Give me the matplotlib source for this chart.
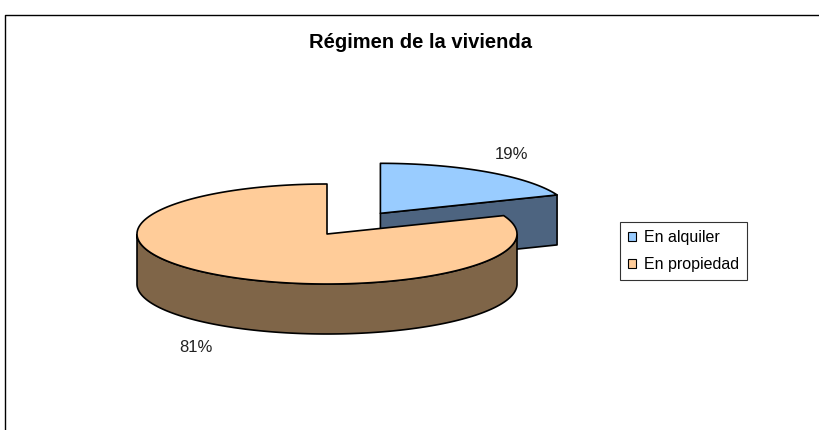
import numpy as np
import matplotlib.pyplot as plt
from matplotlib.patches import Polygon, Patch
from matplotlib.lines import Line2D

plt.rcParams['font.family'] = ['Liberation Sans', 'DejaVu Sans']

# Datos del gráfico
titulo = 'Régimen de la vivienda'
categorias = ['En alquiler', 'En propiedad']
valores = [19, 81]
colores = ['#99CCFF', '#FFCC99']
colores_lado = ['#4D6480', '#7F6548']
separacion = [0.5, 0.0]

# Geometría de la tarta en píxeles (centro, radios, grosor)
W, H = 819, 430
cx, cy = 327, 234
rx, ry = 190, 50
grosor = 1.0  # en unidades del radio vertical

fig = plt.figure(figsize=(W / 100, H / 100), dpi=100)
ax = fig.add_axes([0, 0, 1, 1])
ax.set_xlim(-cx / rx, (W - cx) / rx)
ax.set_ylim(-(H - cy) / ry, cy / ry)
ax.axis('off')

# Ángulos de cada porción: empieza a 90 grados y va en sentido horario
total = sum(valores)
fin = 90 - 360 * np.cumsum(valores) / total
inicio = np.concatenate([[90], fin[:-1]])
porciones = []
for i in range(len(valores)):
    t1, t2 = fin[i], inicio[i]
    med = np.radians((t1 + t2) / 2)
    off = (separacion[i] * np.cos(med), separacion[i] * np.sin(med))
    porciones.append((i, t1, t2, med, off))

# Dibujar primero las porciones del fondo
porciones.sort(key=lambda p: -np.sin(p[3]))

kw = dict(edgecolor='black', linewidth=1.2, joinstyle='round')
for i, t1, t2, med, off in porciones:
    t = np.radians(np.linspace(t1, t2, 400))
    ox, oy = off
    xs = ox + np.cos(t)
    ys = oy + np.sin(t)

    # caras radiales visibles
    for ang, vis in ((t1, np.cos(np.radians(t1)) > 1e-6),
                     (t2, np.cos(np.radians(t2)) < -1e-6)):
        if vis:
            a = np.radians(ang)
            px, py = ox + np.cos(a), oy + np.sin(a)
            cara = [(ox, oy), (px, py), (px, py - grosor), (ox, oy - grosor)]
            ax.add_patch(Polygon(cara, closed=True, facecolor=colores_lado[i], **kw))

    # pared exterior visible (mitad delantera)
    mask = np.sin(t) <= 0
    if mask.any():
        idx = np.where(mask)[0]
        cortes = np.where(np.diff(idx) > 1)[0] + 1
        for tramo in np.split(idx, cortes):
            ax_ = xs[tramo]
            ay_ = ys[tramo]
            pts = np.column_stack([np.concatenate([ax_, ax_[::-1]]),
                                   np.concatenate([ay_, ay_[::-1] - grosor])])
            ax.add_patch(Polygon(pts, closed=True, facecolor=colores_lado[i], **kw))

    # cara superior
    pts = np.column_stack([np.concatenate([[ox], xs]), np.concatenate([[oy], ys])])
    ax.add_patch(Polygon(pts, closed=True, facecolor=colores[i], **kw))

    # etiqueta de porcentaje
    r = 1.23
    lx = ox + r * np.cos(med)
    ly = oy + r * np.sin(med)
    if np.sin(med) < 0:
        ly -= grosor + 0.1
        va = 'top'
    else:
        va = 'bottom'
    ax.text(lx, ly, f'{round(100 * valores[i] / total)}%', ha='center', va=va,
            fontsize=12, color='#222222')

# Título
fig.text(421 / W, 1 - 42 / H, titulo, ha='center', va='center',
         fontsize=14.5, fontweight='bold')

# Leyenda
handles = [Patch(facecolor=c, edgecolor='black', linewidth=0.8) for c in colores]
leg = fig.legend(handles, categorias, loc='upper left',
                 bbox_to_anchor=(620 / W, 1 - 222 / H), borderaxespad=0,
                 fontsize=11.5, frameon=True, fancybox=False,
                 handlelength=0.5, handleheight=0.5, handletextpad=0.5,
                 labelspacing=0.75, borderpad=0.5)
leg.get_frame().set_edgecolor('black')
leg.get_frame().set_linewidth(0.8)

# Marco del gráfico (solo borde superior e izquierdo visibles)
fig.add_artist(Line2D([5 / W, 5 / W, 1], [0, 1 - 15 / H, 1 - 15 / H],
                      transform=fig.transFigure, color='black', linewidth=1))

fig.savefig('out.png', dpi=100)
